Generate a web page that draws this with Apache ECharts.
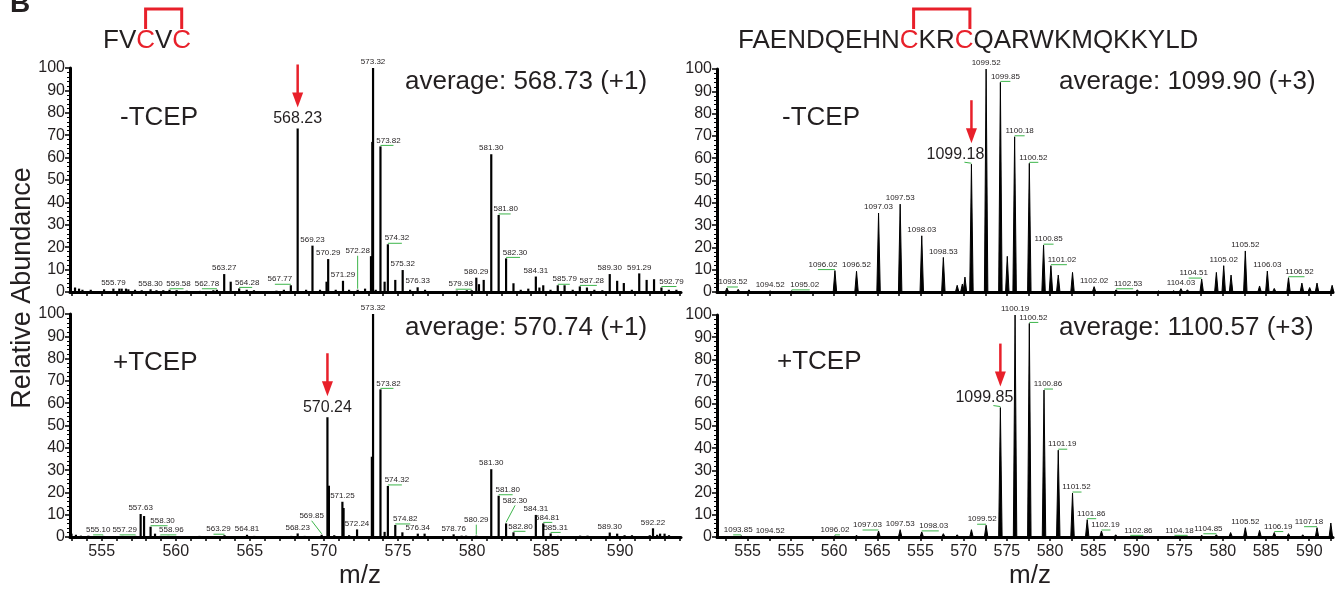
<!DOCTYPE html>
<html>
<head>
<meta charset="utf-8">
<script src="https://cdn.jsdelivr.net/npm/echarts@6/dist/echarts.min.js"></script>
<style>
html, body { margin: 0; padding: 0; background: #fff; }
#main { width: 1341px; height: 590px; }
</style>
</head>
<body>
<div id="main"></div>
<script>
// FVCVC, -TCEP (top left)
var topLeftMz = [553.20, 553.47, 553.70, 554.26, 555.16, 555.79, 556.19, 556.35, 556.64, 556.80, 557.25, 557.70, 558.30, 558.70, 559.16, 559.58, 560.06, 560.74, 561.64, 562.54, 562.78, 563.27, 563.71, 564.28, 564.79, 565.28, 566.80, 567.30, 567.77, 568.23, 568.80, 569.23, 569.74, 570.18, 570.29, 570.80, 571.29, 571.70, 572.28, 572.78, 573.18, 573.27, 573.32, 573.50, 573.82, 574.10, 574.32, 574.82, 575.32, 575.82, 576.33, 576.83, 578.97, 579.65, 579.98, 580.29, 580.47, 580.79, 581.30, 581.80, 582.30, 582.80, 583.29, 583.80, 584.31, 584.55, 584.81, 585.30, 585.79, 586.25, 586.80, 587.28, 587.76, 588.26, 588.80, 589.30, 589.80, 590.25, 590.79, 591.29, 591.79, 592.29, 592.79, 593.29, 593.80];
var topLeftAbund = [2.0, 1.5, 1.0, 1.0, 1.2, 1.5, 1.5, 1.5, 1.5, 1.2, 1.0, 0.8, 1.2, 0.8, 0.8, 1.0, 0.8, 0.6, 0.5, 0.8, 1.0, 8.0, 4.6, 1.6, 1.0, 0.8, 0.6, 1.0, 3.0, 73.0, 1.0, 20.7, 1.0, 4.6, 14.7, 1.0, 5.0, 1.0, 1.0, 1.5, 16.0, 67.0, 100, 1.0, 65.0, 4.6, 21.3, 5.4, 9.8, 1.0, 2.1, 1.0, 0.6, 0.8, 0.8, 6.4, 3.5, 5.4, 61.5, 34.4, 15.0, 3.9, 1.0, 1.5, 6.9, 2.0, 3.0, 1.0, 3.0, 3.0, 1.0, 2.5, 2.0, 1.0, 0.8, 8.0, 5.0, 4.0, 1.0, 8.3, 5.4, 5.7, 2.0, 1.0, 1.0];
var topLeftLabels = [555.79, 558.30, 559.58, 562.78, 563.27, 564.28, 567.77, 569.23, 570.29, 571.29, 572.28, 573.32, 573.82, 574.32, 575.32, 576.33, 579.98, 580.29, 581.30, 581.80, 582.30, 584.31, 585.79, 587.28, 589.30, 591.29, 592.79];
var topLeftMarked = 568.23;

// FVCVC, +TCEP (bottom left)
var bottomLeftMz = [552.96, 553.26, 553.60, 554.10, 555.10, 556.40, 557.29, 557.63, 557.86, 558.30, 558.60, 558.96, 559.50, 561.60, 563.29, 564.81, 565.30, 567.80, 568.23, 568.70, 569.85, 570.24, 570.34, 570.70, 571.25, 571.33, 571.70, 572.24, 573.24, 573.32, 573.82, 574.10, 574.32, 574.82, 575.30, 576.34, 576.80, 578.76, 579.30, 579.60, 580.29, 581.30, 581.80, 582.30, 582.80, 584.31, 584.81, 585.31, 585.80, 587.30, 587.80, 589.30, 589.80, 590.30, 590.80, 592.00, 592.22, 592.50, 592.70, 593.00, 593.30];
var bottomLeftAbund = [1.5, 1.0, 0.6, 0.6, 0.5, 0.5, 0.5, 10.3, 9.4, 4.6, 1.5, 0.5, 0.5, 0.5, 0.8, 1.0, 0.5, 0.5, 1.6, 0.5, 1.0, 53.7, 23.0, 0.8, 15.8, 13.0, 0.8, 3.4, 36.0, 100, 66.2, 2.3, 22.9, 5.4, 2.1, 1.5, 1.5, 1.2, 0.6, 0.6, 0.6, 30.4, 18.5, 6.1, 2.1, 9.9, 6.1, 1.6, 0.5, 0.6, 0.6, 2.0, 1.5, 0.8, 0.8, 0.8, 3.9, 1.0, 1.5, 1.5, 0.8];
var bottomLeftLabels = [555.10, 557.29, 557.63, 558.30, 558.96, 563.29, 564.81, 568.23, 569.85, 571.25, 572.24, 573.32, 573.82, 574.32, 574.82, 576.34, 578.76, 580.29, 581.30, 581.80, 582.30, 582.80, 584.31, 584.81, 585.31, 589.30, 592.22];
var bottomLeftMarked = 570.24;

// FAENDQEHNCKRCQARWKMQKKYLD, -TCEP (top right)
var topRightMz = [1093.52, 1093.78, 1094.03, 1094.52, 1095.02, 1096.02, 1096.52, 1097.03, 1097.53, 1098.03, 1098.53, 1098.85, 1098.97, 1099.03, 1099.18, 1099.52, 1099.85, 1100.01, 1100.18, 1100.52, 1100.85, 1101.02, 1101.19, 1101.52, 1102.02, 1102.53, 1103.02, 1103.51, 1103.86, 1104.03, 1104.18, 1104.51, 1104.85, 1105.02, 1105.19, 1105.52, 1105.85, 1106.03, 1106.19, 1106.52, 1106.83, 1107.01, 1107.18, 1107.53];
var topRightAbund = [1.8, 1.2, 1.0, 0.5, 0.5, 9.6, 9.3, 35.4, 39.4, 25.2, 15.5, 3.0, 3.6, 6.7, 57.3, 100, 94.0, 16.0, 69.6, 57.7, 21.0, 11.8, 7.6, 8.8, 2.4, 1.0, 1.0, 0.5, 0.6, 1.5, 1.0, 5.8, 8.8, 11.8, 7.6, 18.4, 2.7, 9.4, 1.6, 6.4, 4.0, 2.0, 4.0, 3.0];
var topRightLabels = [1093.52, 1094.52, 1095.02, 1096.02, 1096.52, 1097.03, 1097.53, 1098.03, 1098.53, 1099.52, 1099.85, 1100.18, 1100.52, 1100.85, 1101.02, 1102.02, 1102.53, 1104.03, 1104.51, 1105.02, 1105.52, 1106.03, 1106.52];
var topRightMarked = 1099.18;

// FAENDQEHNCKRCQARWKMQKKYLD, +TCEP (bottom right)
var bottomRightMz = [1093.85, 1094.52, 1096.02, 1096.52, 1097.03, 1097.53, 1098.03, 1098.53, 1098.85, 1099.18, 1099.52, 1099.85, 1100.19, 1100.52, 1100.86, 1101.19, 1101.52, 1101.86, 1102.19, 1102.52, 1102.86, 1103.50, 1104.18, 1104.51, 1104.85, 1105.18, 1105.52, 1105.85, 1106.19, 1106.52, 1106.85, 1107.18, 1107.50];
var bottomRightAbund = [0.5, 0.3, 0.5, 0.8, 2.7, 3.3, 2.3, 1.5, 1.0, 3.3, 5.3, 58.3, 100, 96.2, 66.2, 39.1, 19.8, 7.8, 2.7, 1.0, 0.3, 0.3, 0.3, 0.8, 1.0, 2.0, 4.2, 3.0, 2.0, 1.5, 1.0, 4.2, 6.3];
var bottomRightLabels = [1093.85, 1094.52, 1096.02, 1097.03, 1097.53, 1098.03, 1099.52, 1100.19, 1100.52, 1100.86, 1101.19, 1101.52, 1101.86, 1102.19, 1102.86, 1104.18, 1104.85, 1105.52, 1106.19, 1107.18];
var bottomRightMarked = 1099.85;

// tick labels
var leftTickValues = [555, 560, 565, 570, 575, 580, 585, 590];
var rightTickValues = [1094, 1095, 1096, 1097, 1098, 1099, 1100, 1101, 1102, 1103, 1104, 1105, 1106, 1107];
var rightTickLabels = ['555', '555', '560', '565', '555', '570', '575', '580', '585', '590', '575', '580', '585', '590'];

// labels that sit off their peak, joined by a green leader: [dx, dy] in px
var leaders = {
	tl: {'559.58': [9, -2], '562.78': [-10, -2], '564.28': [8, -2], '567.77': [-11, -2], '572.28': [0, -35], '573.82': [8, -2], '574.32': [9, -2], '579.98': [-11, -2], '581.80': [7, -2], '582.30': [9, -2], '585.79': [7, -2], '587.28': [12, -2], '592.79': [10, -2]},
	bl: {'555.10': [-5, -2], '557.29': [-11, -2], '558.30': [12, -2], '558.96': [11, -2], '563.29': [-6, -2], '569.85': [-10, -15], '573.82': [8, -2], '574.32': [9, -2], '574.82': [10, -2], '580.29': [0, -12], '581.80': [9, -2], '582.30': [9, -19], '582.80': [7, -2], '584.81': [4, -2], '585.31': [5, -2]},
	tr: {'1093.52': [6, -2], '1095.02': [13, -2], '1096.02': [-12, -2], '1099.85': [5, -2], '1100.18': [5, -2], '1100.52': [4, -2], '1100.85': [5, -2], '1101.02': [11, -2], '1102.53': [12, -2], '1104.51': [-8, -2], '1106.52': [11, -2]},
	br: {'1093.85': [-3, -2], '1096.02': [0, -2], '1097.03': [-11, -2], '1098.03': [12, -2], '1099.52': [-4, -2], '1100.52': [4, -2], '1100.86': [4, -2], '1101.19': [4, -2], '1101.52': [4, -2], '1101.86': [4, -2], '1102.19': [4, -2], '1102.86': [8, -2], '1104.18': [-8, -2], '1104.85': [-8, -2], '1106.19': [4, -2], '1107.18': [-8, -2]}
};

var FONT = 'Liberation Sans, Arial, Helvetica, sans-serif';
var INK = '#231f20';
var RED = '#e8202a';
var GREEN = '#3cb54a';

function pairs(mz, ab) {
	return mz.map(function(m, i) { return [m, ab[i]]; });
}
function pick(mz, ab, list) {
	return list.map(function(m) { return [m, ab[mz.indexOf(m)]]; });
}

function stickShape(params, api) {
	var b = api.coord([api.value(0), 0]);
	var t = api.coord([api.value(0), api.value(1)]);
	return {type: 'line', shape: {x1: b[0], y1: b[1], x2: t[0], y2: t[1]}, style: {stroke: '#000', lineWidth: 2.2}};
}

function profileShape(params, api) {
	var m = api.value(0), h = api.value(1);
	var l = api.coord([m - 0.04, 0]), t = api.coord([m, h]), r = api.coord([m + 0.04, 0]);
	return {type: 'polygon', shape: {points: [l, t, r]}, style: {fill: '#000', stroke: '#000', lineWidth: 1, lineJoin: 'round'}};
}

function labelRender(shift) {
	return function(params, api) {
		var m = api.value(0);
		var p = api.coord([m, api.value(1)]);
		var key = m.toFixed(2);
		var off = shift[key] || [0, -2];
		var lx = p[0] + off[0], ly = p[1] + off[1];
		var kids = [];
		if (shift[key]) {
			var ex = Math.abs(off[1]) > 4 ? lx : lx + (off[0] >= 0 ? 5 : -5);
			kids.push({type: 'line', shape: {x1: p[0], y1: p[1] - 1, x2: ex, y2: ly + 1}, style: {stroke: GREEN, lineWidth: 1}});
		}
		kids.push({type: 'text', style: {text: key, x: lx, y: ly, align: 'center', verticalAlign: 'bottom', fontSize: 8, fontFamily: FONT, fill: INK}});
		return {type: 'group', children: kids};
	};
}

function markRender(dx) {
	return function(params, api) {
		var m = api.value(0);
		var p = api.coord([m, api.value(1)]);
		var kids = [
			{type: 'text', style: {text: m.toFixed(2), x: p[0] + dx, y: p[1] - 2, align: 'center', verticalAlign: 'bottom', fontSize: 16, fontFamily: FONT, fill: INK}},
			{type: 'line', shape: {x1: p[0], y1: p[1] - 64, x2: p[0], y2: p[1] - 34}, style: {stroke: RED, lineWidth: 2.5}},
			{type: 'polygon', shape: {points: [[p[0] - 5.5, p[1] - 36], [p[0] + 5.5, p[1] - 36], [p[0], p[1] - 21]]}, style: {fill: RED}}
		];
		if (dx) {
			kids.push({type: 'line', shape: {x1: p[0], y1: p[1] - 1, x2: p[0] - 7, y2: p[1] - 2}, style: {stroke: GREEN, lineWidth: 1}});
		}
		return {type: 'group', children: kids};
	};
}

function everyStep(lo, hi, step) {
	var out = [];
	for (var v = Math.ceil(lo / step) * step; v <= hi + 1e-9; v += step) {
		out.push(Math.round(v * 100) / 100);
	}
	return out;
}

var LEFT_MIN = 552.86, LEFT_MAX = 594.11;
var RIGHT_MIN = 1093.29, RIGHT_MAX = 1107.55;

function xAxis(gi, lo, hi, tickVals, labelVals, labelFn) {
	return {
		gridIndex: gi, type: 'value', min: lo, max: hi,
		axisLine: {show: true, lineStyle: {color: '#000', width: 3}},
		axisTick: {show: true, length: 4, customValues: tickVals, lineStyle: {color: '#000', width: 1.5}},
		axisLabel: labelVals ? {show: true, customValues: labelVals, formatter: labelFn, fontSize: 16, fontFamily: FONT, color: INK, margin: 7} : {show: false},
		splitLine: {show: false}
	};
}

function yAxis(gi) {
	return {
		gridIndex: gi, type: 'value', min: 0, max: 100, interval: 10,
		axisLine: {show: true, lineStyle: {color: '#000', width: 3}},
		axisTick: {show: true, length: 5, lineStyle: {color: '#000', width: 1.5}},
		minorTick: {show: true, splitNumber: 5, length: 3, lineStyle: {color: '#000', width: 1}},
		axisLabel: {fontSize: 16, fontFamily: FONT, color: INK, margin: 5},
		splitLine: {show: false}
	};
}

function panelSeries(gi, mz, ab, labels, marked, shift, markDx, shape) {
	return [
		{type: 'custom', coordinateSystem: 'cartesian2d', xAxisIndex: gi, yAxisIndex: gi, renderItem: shape, data: pairs(mz, ab), silent: true, z: 2},
		{type: 'custom', coordinateSystem: 'cartesian2d', xAxisIndex: gi, yAxisIndex: gi, renderItem: labelRender(shift), data: pick(mz, ab, labels), silent: true, z: 3},
		{type: 'custom', coordinateSystem: 'cartesian2d', xAxisIndex: gi, yAxisIndex: gi, renderItem: markRender(markDx), data: pick(mz, ab, [marked]), silent: true, z: 4}
	];
}

var leftTicks = everyStep(LEFT_MIN, LEFT_MAX, 1);
var rightTicks = everyStep(RIGHT_MIN, RIGHT_MAX, 0.5);
var leftFmt = function(v) { return String(Math.round(v)); };
var rightFmt = function(v) { return rightTickLabels[rightTickValues.indexOf(Math.round(v))]; };

function txt(x, y, s, size, extra) {
	var st = {text: s, x: x, y: y, fontSize: size, fontFamily: FONT, fill: INK, align: 'left', verticalAlign: 'middle'};
	for (var k in extra) st[k] = extra[k];
	return {type: 'text', style: st, silent: true};
}

var chart = echarts.init(document.getElementById('main'));
chart.setOption({
	animation: false,
	backgroundColor: '#fff',
	grid: [
		{left: 70, top: 68, width: 611, height: 224},
		{left: 70, top: 314, width: 611, height: 223},
		{left: 717, top: 69, width: 616, height: 223},
		{left: 717, top: 315, width: 616, height: 222}
	],
	xAxis: [
		xAxis(0, LEFT_MIN, LEFT_MAX, leftTicks, null, null),
		xAxis(1, LEFT_MIN, LEFT_MAX, leftTicks, leftTickValues, leftFmt),
		xAxis(2, RIGHT_MIN, RIGHT_MAX, rightTicks, null, null),
		xAxis(3, RIGHT_MIN, RIGHT_MAX, rightTicks, rightTickValues, rightFmt)
	],
	yAxis: [yAxis(0), yAxis(1), yAxis(2), yAxis(3)],
	series: [].concat(
		panelSeries(0, topLeftMz, topLeftAbund, topLeftLabels, topLeftMarked, leaders.tl, 0, stickShape),
		panelSeries(1, bottomLeftMz, bottomLeftAbund, bottomLeftLabels, bottomLeftMarked, leaders.bl, 0, stickShape),
		panelSeries(2, topRightMz, topRightAbund, topRightLabels, topRightMarked, leaders.tr, -16, profileShape),
		panelSeries(3, bottomRightMz, bottomRightAbund, bottomRightLabels, bottomRightMarked, leaders.br, -16, profileShape)
	),
	graphic: [
		txt(10, 4, 'B', 28, {fontWeight: 'bold'}),
		txt(103, 41, '{k|FV}{r|C}{k|V}{r|C}', 26, {rich: {k: {fill: INK, fontSize: 26, fontFamily: FONT}, r: {fill: RED, fontSize: 26, fontFamily: FONT}}}),
		txt(738, 41, '{k|FAENDQEHN}{r|C}{k|KR}{r|C}{k|QARWKMQKKYLD}', 26, {rich: {k: {fill: INK, fontSize: 26, fontFamily: FONT}, r: {fill: RED, fontSize: 26, fontFamily: FONT}}}),
		{type: 'polyline', shape: {points: [[145.6, 29], [145.6, 9], [181.7, 9], [181.7, 29]]}, style: {stroke: RED, lineWidth: 3, fill: null}, silent: true},
		{type: 'polyline', shape: {points: [[913.6, 29], [913.6, 9], [969.9, 9], [969.9, 29]]}, style: {stroke: RED, lineWidth: 3, fill: null}, silent: true},
		txt(120, 118, '-TCEP', 26),
		txt(113, 363, '+TCEP', 26),
		txt(782, 118, '-TCEP', 26),
		txt(777, 362, '+TCEP', 26),
		txt(405, 82, 'average: 568.73 (+1)', 26),
		txt(405, 328, 'average: 570.74 (+1)', 26),
		txt(1059, 82, 'average: 1099.90 (+3)', 26),
		txt(1059, 328, 'average: 1100.57 (+3)', 26),
		{type: 'text', x: 23, y: 288, rotation: Math.PI / 2, style: {text: 'Relative Abundance', fontSize: 27, fontFamily: FONT, fill: INK, align: 'center', verticalAlign: 'middle'}, silent: true},
		txt(360, 576, 'm/z', 26, {align: 'center'}),
		txt(1030, 576, 'm/z', 26, {align: 'center'})
	]
});
</script>
</body>
</html>
